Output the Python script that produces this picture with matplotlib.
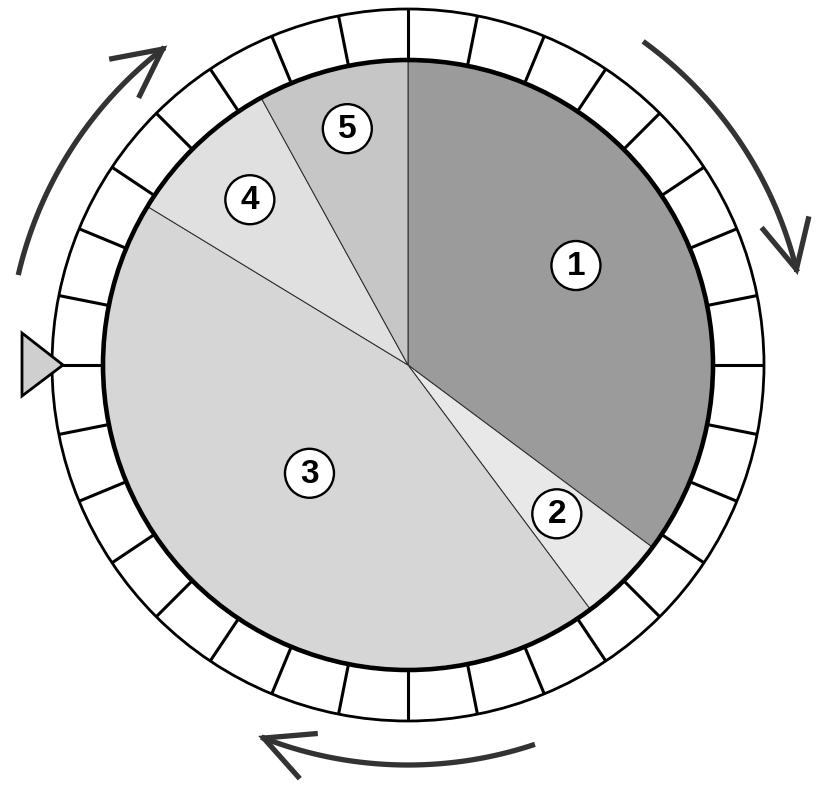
"""Pie with segmented outer ring, clockwise arrows and a pointer."""

import numpy as np
import matplotlib.pyplot as plt
from matplotlib.patches import Wedge, Circle, Polygon, FancyArrowPatch
from matplotlib.path import Path

# Slice shares (%), clockwise from 12 o'clock
LABELS = ["1", "2", "3", "4", "5"]
VALUES = [35.2, 4.6, 43.9, 8.3, 8.0]
COLORS = ["#9b9b9b", "#e8e8e8", "#d6d6d6", "#e0e0e0", "#c6c6c6"]

# Label placement (fraction of radius, extra angle in degrees)
LABEL_RADIUS = [0.64, 0.69, 0.48, 0.75, 0.80]
LABEL_SHIFT = [4, 0, 0, 0, 0]

N_SEGMENTS = 32

# Arrow arcs (start angle, end angle), going clockwise
ARROWS = [(167, 127), (54, 13), (-71.5, -112)]

W, H = 822, 787
CX, CY = 408, H - 365
R_PIE = 305
R_RING = 356
R_ARROW = 400

fig = plt.figure(figsize=(W / 100, H / 100), dpi=100)
ax = fig.add_axes([0, 0, 1, 1])

# ring background
ax.add_patch(Wedge((CX, CY), R_RING, 0, 360, width=R_RING - R_PIE,
                   facecolor="white", edgecolor="none", zorder=1))

wedges, _ = ax.pie(
    VALUES,
    colors=COLORS,
    startangle=90,
    counterclock=False,
    radius=R_PIE,
    center=(CX, CY),
    wedgeprops=dict(edgecolor="#2a2a2a", linewidth=0.7),
)
for w in wedges:
    w.set_zorder(2)

# ring outlines
ax.add_patch(Circle((CX, CY), R_RING, fill=False, edgecolor="black",
                    linewidth=2.0, zorder=4))
ax.add_patch(Circle((CX, CY), R_PIE, fill=False, edgecolor="black",
                    linewidth=3.3, zorder=4))

# segment ticks
for k in range(N_SEGMENTS):
    a = np.deg2rad(90 - k * 360 / N_SEGMENTS)
    ax.plot([CX + R_PIE * np.cos(a), CX + R_RING * np.cos(a)],
            [CY + R_PIE * np.sin(a), CY + R_RING * np.sin(a)],
            color="black", linewidth=2.2, solid_capstyle="butt", zorder=3)

# numbered labels
bounds = 90 - np.concatenate([[0], np.cumsum(VALUES)]) * 3.6
for i, lab in enumerate(LABELS):
    mid = np.deg2rad((bounds[i] + bounds[i + 1]) / 2 + LABEL_SHIFT[i])
    x = CX + LABEL_RADIUS[i] * R_PIE * np.cos(mid)
    y = CY + LABEL_RADIUS[i] * R_PIE * np.sin(mid)
    ax.add_patch(Circle((x, y), 24.5, facecolor="white", edgecolor="black",
                        linewidth=1.7, zorder=5))
    ax.text(x, y - 1, lab, ha="center", va="center", fontsize=24,
            fontweight="bold", family="Liberation Sans", zorder=6)

# clockwise arrows
for a0, a1 in ARROWS:
    t = np.deg2rad(np.linspace(a0, a1, 80))
    verts = np.column_stack([CX + R_ARROW * np.cos(t), CY + R_ARROW * np.sin(t)])
    arr = FancyArrowPatch(
        path=Path(verts),
        arrowstyle="->,head_length=1.0,head_width=0.5",
        mutation_scale=35,
        color="#333333",
        linewidth=3.8,
        capstyle="butt",
        joinstyle="miter",
        zorder=3,
    )
    ax.add_patch(arr)

# pointer triangle on the left
ax.add_patch(Polygon([[22, H - 333], [22, H - 396], [63, H - 365]],
                     closed=True, facecolor="#cfcfcf", edgecolor="black",
                     linewidth=2.0, joinstyle="miter", zorder=6))

ax.set_xlim(0, W)
ax.set_ylim(0, H)
ax.set_aspect("equal")
ax.axis("off")

plt.savefig("out.png", dpi=100, facecolor="white")
